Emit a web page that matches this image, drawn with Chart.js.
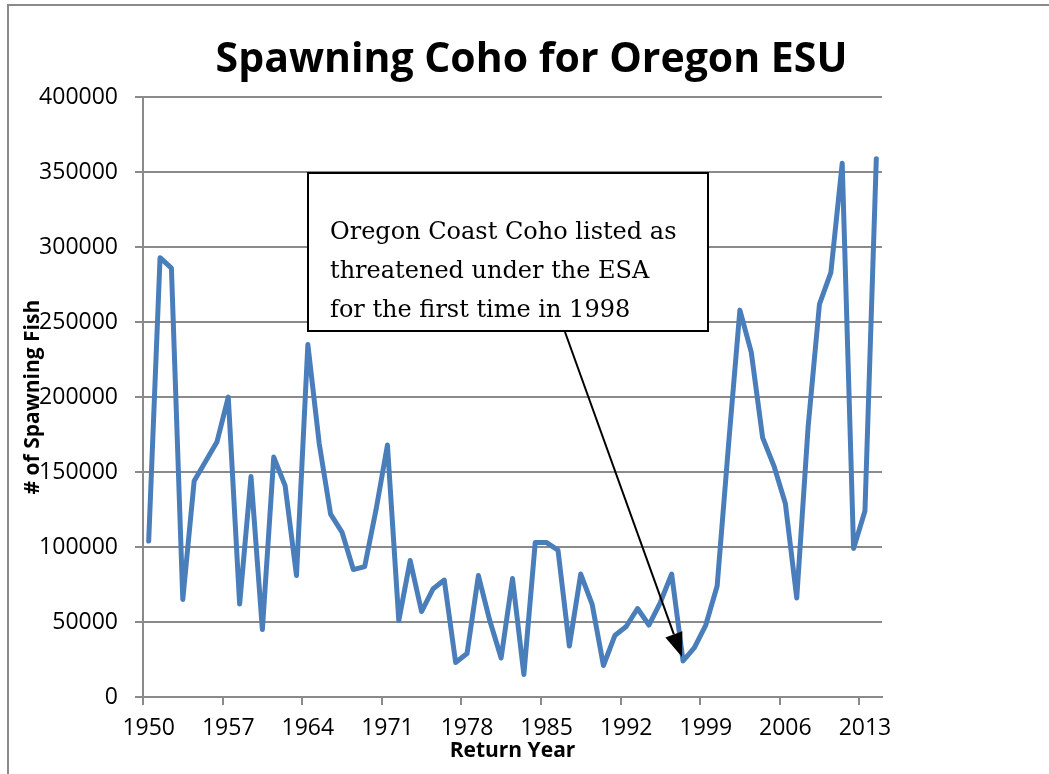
<!DOCTYPE html>
<html>
<head>
<meta charset="utf-8">
<title>Spawning Coho for Oregon ESU</title>
<script src="https://cdn.jsdelivr.net/npm/chart.js@4.4.0/dist/chart.umd.min.js"></script>
<style>
  html, body { margin: 0; padding: 0; background: #fff; }
</style>
</head>
<body>
<canvas id="cohoChart" width="1049" height="774"></canvas>
<script>
// Spawning coho, Oregon coast ESU, by return year
const years = [
    1950, 1951, 1952, 1953, 1954, 1955, 1956, 1957, 1958, 1959,
    1960, 1961, 1962, 1963, 1964, 1965, 1966, 1967, 1968, 1969,
    1970, 1971, 1972, 1973, 1974, 1975, 1976, 1977, 1978, 1979,
    1980, 1981, 1982, 1983, 1984, 1985, 1986, 1987, 1988, 1989,
    1990, 1991, 1992, 1993, 1994, 1995, 1996, 1997, 1998, 1999,
    2000, 2001, 2002, 2003, 2004, 2005, 2006, 2007, 2008, 2009,
    2010, 2011, 2012, 2013, 2014
];

const spawners = [
    104000, 293000, 286000, 65000, 144000, 157000, 170000, 200000, 62000, 147000,
    45000, 160000, 141000, 81000, 235000, 169000, 122000, 110000, 85000, 87000,
    125000, 168000, 51000, 91000, 57000, 72000, 78000, 23000, 29000, 81000,
    51000, 26000, 79000, 15000, 103000, 103000, 98000, 34000, 82000, 62000,
    21000, 41000, 47000, 59000, 48000, 63000, 82000, 24000, 33000, 48000,
    74000, 168000, 258000, 230000, 173000, 154000, 129000, 66000, 180000, 262000,
    283000, 356000, 99000, 124000, 359000
];

const yTickValues = [0, 50000, 100000, 150000, 200000, 250000, 300000, 350000, 400000];
const xLabelEvery = 7;

const noteLines = [
    'Oregon Coast Coho listed as',
    'threatened under the ESA',
    'for the first time in 1998'
];

const GRID = '#8a8a8a';
const LINE = '#4a7ebb';
const SANS = '"Open Sans", "DejaVu Sans", sans-serif';

// white page + the thin grey frame around the chart
const chartFrame = {
    id: 'chartFrame',
    beforeDraw(chart) {
        const ctx = chart.ctx;
        ctx.save();
        ctx.fillStyle = '#fff';
        ctx.fillRect(0, 0, chart.width, chart.height);
        ctx.strokeStyle = GRID;
        ctx.lineWidth = 2;
        ctx.strokeRect(8, 5, chart.width + 20, chart.height + 20);
        ctx.restore();
    }
};

// callout box with the arrow pointing at the 1997/98 low
const esuNote = {
    id: 'esuNote',
    afterDatasetsDraw(chart) {
        const ctx = chart.ctx;
        ctx.save();
        ctx.fillStyle = '#fff';
        ctx.fillRect(308, 173, 400, 158);
        ctx.strokeStyle = '#000';
        ctx.lineWidth = 2;
        ctx.strokeRect(308, 173, 400, 158);

        ctx.fillStyle = '#000';
        ctx.font = '24px "DejaVu Serif", serif';
        ctx.textBaseline = 'alphabetic';
        noteLines.forEach((t, i) => ctx.fillText(t, 330, 239 + i * 39));

        // arrow
        const x0 = 565, y0 = 332, x1 = 682, y1 = 657;
        const ang = Math.atan2(y1 - y0, x1 - x0);
        const head = 24, half = 9;
        const bx = x1 - head * Math.cos(ang), by = y1 - head * Math.sin(ang);
        ctx.beginPath();
        ctx.moveTo(x0, y0);
        ctx.lineTo(bx, by);
        ctx.lineWidth = 2;
        ctx.stroke();
        ctx.beginPath();
        ctx.moveTo(x1, y1);
        ctx.lineTo(bx + half * Math.sin(ang), by - half * Math.cos(ang));
        ctx.lineTo(bx - half * Math.sin(ang), by + half * Math.cos(ang));
        ctx.closePath();
        ctx.fill();
        ctx.restore();
    }
};

new Chart(document.getElementById('cohoChart'), {
    type: 'line',
    data: {
        labels: years,
        datasets: [{
            label: 'Spawning fish',
            data: spawners,
            borderColor: LINE,
            borderWidth: 5,
            borderJoinStyle: 'round',
            borderCapStyle: 'round',
            pointRadius: 0,
            tension: 0,
            fill: false
        }]
    },
    options: {
        responsive: false,
        animation: false,
        layout: {
            padding: { left: 14, top: 0, right: 0, bottom: 0 }
        },
        plugins: {
            legend: { display: false },
            tooltip: { enabled: false },
            title: {
                display: true,
                text: 'Spawning Coho for Oregon ESU',
                color: '#000',
                font: { family: SANS, size: 41, weight: 'bold' },
                padding: { top: 36, bottom: 12 }
            }
        },
        scales: {
            x: {
                type: 'category',
                offset: true,
                grid: {
                    offset: true,
                    drawOnChartArea: false,
                    drawTicks: true,
                    tickLength: 8,
                    lineWidth: 2,
                    tickColor: (c) => (c.index % xLabelEvery === 0 ? GRID : 'rgba(0,0,0,0)')
                },
                border: { color: GRID, width: 2 },
                ticks: {
                    autoSkip: false,
                    maxRotation: 0,
                    minRotation: 0,
                    padding: 10,
                    color: '#000',
                    font: { family: SANS, size: 23 },
                    callback: (v, i) => (i % xLabelEvery === 0 ? String(years[i]) : '')
                },
                title: {
                    display: true,
                    text: 'Return Year',
                    color: '#000',
                    font: { family: SANS, size: 21, weight: 'bold' },
                    padding: { top: 0, bottom: 10 }
                },
                afterFit: (s) => { s.height = 77; }
            },
            y: {
                min: 0,
                max: 400000,
                afterBuildTicks: (s) => { s.ticks = yTickValues.map(v => ({ value: v })); },
                grid: {
                    color: GRID,
                    lineWidth: 2,
                    drawTicks: true,
                    tickLength: 8
                },
                border: { color: GRID, width: 2 },
                ticks: {
                    padding: 17,
                    color: '#000',
                    font: { family: SANS, size: 23 },
                    callback: (v) => String(v)
                },
                title: {
                    display: true,
                    text: '# of Spawning Fish',
                    color: '#000',
                    font: { family: SANS, size: 21, weight: 'bold' },
                    padding: { top: 6, bottom: 0 }
                },
                afterFit: (s) => { s.width = 129; }
            },
            // empty right-hand axis just to hold the blank margin
            spacer: {
                position: 'right',
                display: true,
                grid: { display: false },
                border: { display: false },
                ticks: { display: false },
                afterFit: (s) => { s.width = 167; }
            }
        }
    },
    plugins: [chartFrame, esuNote]
});
</script>
</body>
</html>
